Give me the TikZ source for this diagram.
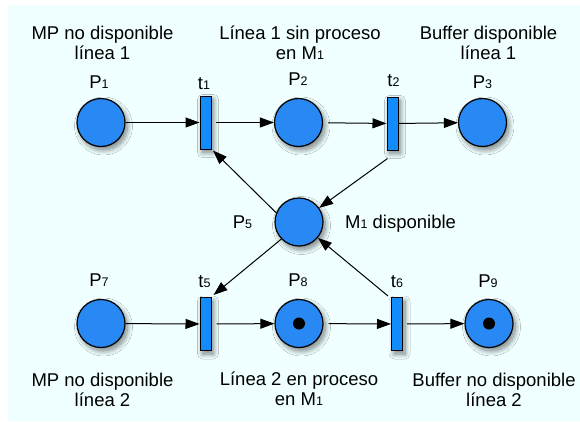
\documentclass[tikz,border=0pt]{standalone}
\usepackage{fontspec}
\setmainfont{Liberation Sans}
\usetikzlibrary{shadows.blur,arrows.meta}
\definecolor{bgcyan}{RGB}{240,255,255}
\definecolor{placeblue}{RGB}{40,137,245}
\definecolor{transblue}{RGB}{18,140,250}
\newcommand\sbs[1]{{\fontsize{12.5}{12.5}\selectfont #1}}
\tikzset{
  pshadow/.style={blur shadow={shadow xshift=2.5pt,shadow yshift=-3.5pt,shadow blur radius=5pt,shadow opacity=50,shadow blur steps=12}},
  place/.style={circle,draw=black,line width=1.2pt,fill=placeblue,minimum size=48pt,inner sep=0pt,pshadow},
  trans/.style={rectangle,draw=black,line width=1pt,fill=transblue,minimum width=11pt,minimum height=53pt,inner sep=0pt,pshadow},
  token/.style={circle,fill=black,minimum size=12pt,inner sep=0pt},
  lbl/.style={anchor=base,inner sep=0pt,font=\fontsize{18.5}{20}\selectfont},
  desc/.style={anchor=base,inner sep=0pt,align=center,font=\fontsize{18.5}{20}\selectfont},
  arr/.style={-{Triangle[length=14pt,width=10pt]},line width=1pt,black}
}
\begin{document}
\begin{tikzpicture}[x=1pt,y=-1pt]
\useasboundingbox (0,0) rectangle (580,421);
\fill[white] (0,0) rectangle (580,421);
\fill[bgcyan] (8,5) rectangle (580,421);

% places and transitions
\node[place] (P1) at (101,122.5) {};
\node[trans] (t1) at (205.5,122.5) {};
\node[place] (P2) at (298.5,122.5) {};
\node[trans] (t2) at (392.5,123.5) {};
\node[place] (P3) at (482.5,122.5) {};
\node[place] (P5) at (299,222) {};
\node[place] (P7) at (101,323.5) {};
\node[trans] (t5) at (205.5,324) {};
\node[place] (P8) at (299,323.5) {};
\node[trans] (t6) at (397,324) {};
\node[place] (P9) at (489,323.5) {};
\node[token] (k8) at (P8) {};
\node[token] (k9) at (P9) {};

% arcs
\draw[arr] (P1) -- (t1);
\draw[arr,shorten <=4pt] (t1) -- (P2);
\draw[arr,shorten <=5pt] (P2) -- (t2);
\draw[arr] (t2) -- (P3);
\draw[arr] (P7) -- (t5);
\draw[arr,shorten <=5pt] (t5) -- (P8);
\draw[arr,shorten <=5pt] (P8) -- (t6);
\draw[arr,shorten <=4pt] (t6) -- (P9);
\coordinate (c1) at ([xshift=1.5pt,yshift=-1pt]t1.south east);
\coordinate (c2) at ([xshift=1pt,yshift=-8pt]t2.south west);
\coordinate (c5) at ([xshift=2pt,yshift=2pt]t5.north east);
\coordinate (c6) at ([xshift=-3pt,yshift=1pt]t6.north west);
\draw[arr] (P5.158) -- (c1);
\draw[arr] (c2) -- (P5.35);
\draw[arr] (P5.224) -- (c5);
\draw[arr] (c6) -- (P5.-40);

% labels
\node[lbl] (lP1) at (99,88) {P\sbs{1}};
\node[lbl] (lt1) at (204,89) {t\sbs{1}};
\node[lbl] (lP2) at (298,85) {P\sbs{2}};
\node[lbl] (lt2) at (393.5,86) {t\sbs{2}};
\node[lbl] (lP3) at (482.5,88) {P\sbs{3}};
\node[lbl] (lP5) at (242.5,228) {P\sbs{5}};
\node[lbl,anchor=base west] (lM1) at (345,228) {M\sbs{1} disponible};
\node[lbl] (lP7) at (99,286) {P\sbs{7}};
\node[lbl] (lt5) at (204.5,287) {t\sbs{5}};
\node[lbl] (lP8) at (298,286) {P\sbs{8}};
\node[lbl] (lt6) at (397,287) {t\sbs{6}};
\node[lbl] (lP9) at (488,287) {P\sbs{9}};

% descriptions (base = baseline of last line)
\node[desc] (d1) at (102.5,59) {MP no disponible\\línea 1};
\node[desc] (d2) at (300,59) {Línea 1 sin proceso\\en M\sbs{1}};
\node[desc] (d3) at (488.5,59) {Buffer disponible\\línea 1};
\node[desc] (d7) at (102.5,406) {MP no disponible\\línea 2};
\node[desc] (d8) at (299,405.5) {Línea 2 en proceso\\en M\sbs{1}};
\node[desc] (d9) at (494,406) {Buffer no disponible\\línea 2};
\end{tikzpicture}
\end{document}
